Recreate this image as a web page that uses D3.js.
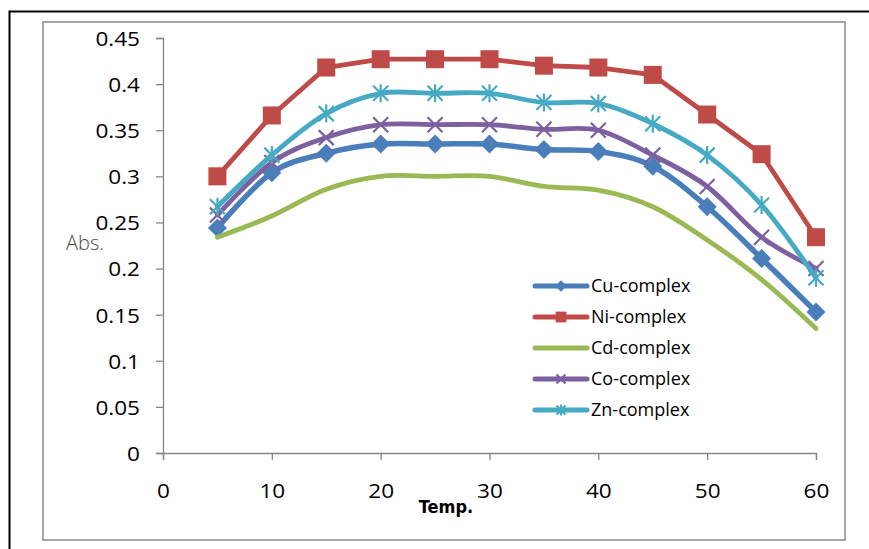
<!DOCTYPE html>
<html><head><meta charset="utf-8">
<script src="https://cdn.jsdelivr.net/npm/d3@7"></script>
<style>body{margin:0;background:#fff}svg{display:block}</style>
</head><body>
<script>
const temps = [5,10,15,20,25,30,35,40,45,50,55,60];
const cu = [0.244,0.304,0.325,0.335,0.335,0.335,0.329,0.327,0.311,0.267,0.211,0.153];
const ni = [0.300,0.366,0.418,0.427,0.427,0.427,0.420,0.418,0.410,0.367,0.324,0.234];
const cd = [0.234,0.257,0.286,0.300,0.300,0.300,0.289,0.285,0.267,0.231,0.188,0.135];
const co = [0.258,0.315,0.342,0.356,0.356,0.356,0.351,0.350,0.323,0.289,0.234,0.200];
const zn = [0.267,0.323,0.368,0.390,0.390,0.390,0.380,0.379,0.357,0.323,0.269,0.190];
const seriesNames = ["Cu-complex","Ni-complex","Cd-complex","Co-complex","Zn-complex"];
const xTicks = [0,10,20,30,40,50,60];
const yTicks = [0,0.05,0.1,0.15,0.2,0.25,0.3,0.35,0.4,0.45];

const series = [
  {name:seriesNames[0], vals:cu, color:"#4a7ebb", marker:"diamond", smooth:true},
  {name:seriesNames[1], vals:ni, color:"#be4b48", marker:"square", smooth:false},
  {name:seriesNames[2], vals:cd, color:"#98b954", marker:"none", smooth:true},
  {name:seriesNames[3], vals:co, color:"#7d60a0", marker:"x", smooth:true},
  {name:seriesNames[4], vals:zn, color:"#46aac5", marker:"star", smooth:true}
];

const W=869,H=549;
const svg=d3.select("body").append("svg").attr("width",W).attr("height",H);
svg.append("rect").attr("width",W).attr("height",H).attr("fill","#fff");
svg.append("path").attr("d","M9.5,549 L9.5,11.5 L869,11.5").attr("fill","none").attr("stroke","#000").attr("stroke-width",2);
svg.append("rect").attr("x",43).attr("y",22).attr("width",802).attr("height",518)
  .attr("fill","#fff").attr("stroke","#8c8c8c").attr("stroke-width",1.5);

const x=d3.scaleLinear().domain([0,60]).range([163,816]);
const y=d3.scaleLinear().domain([0,0.45]).range([453,38]);
const axisColor="#868686";
const fontF="'Open Sans', Lato, sans-serif";

const yAx=svg.append("g").attr("transform","translate(163,0)")
  .call(d3.axisLeft(y).tickValues(yTicks).tickSize(7).tickPadding(0));
yAx.select(".domain").attr("stroke",axisColor).attr("stroke-width",1.3);
yAx.selectAll(".tick line").attr("stroke",axisColor).attr("stroke-width",1.3);
yAx.selectAll(".tick text").remove();
yAx.selectAll(".tick").append("text")
  .attr("transform","translate(-23,0) scale(1.1,1)")
  .attr("text-anchor","end").attr("dy","0.36em")
  .attr("font-family",fontF).attr("font-size",20.5).attr("fill","#000")
  .text(d=>String(+d.toFixed(2)));

const xAx=svg.append("g").attr("transform","translate(0,453)")
  .call(d3.axisBottom(x).tickValues(xTicks).tickSize(7).tickPadding(0));
xAx.select(".domain").attr("stroke",axisColor).attr("stroke-width",1.3);
xAx.selectAll(".tick line").attr("stroke",axisColor).attr("stroke-width",1.3);
xAx.selectAll(".tick text").remove();
xAx.selectAll(".tick").append("text")
  .attr("transform","translate(0,38) scale(1.1,1)")
  .attr("text-anchor","middle").attr("dy","0.36em")
  .attr("font-family",fontF).attr("font-size",20.5).attr("fill","#000")
  .text(d=>d);

svg.append("text").attr("x",66).attr("y",250).attr("font-family",fontF).attr("font-size",20)
  .attr("fill","#4a4a4a").attr("font-weight",300).text("Abs.");
svg.append("text").attr("x",446).attr("y",513).attr("text-anchor","middle")
  .attr("font-family","'DejaVu Sans Condensed','DejaVu Sans',sans-serif").attr("font-weight","bold")
  .attr("font-size",18).attr("fill","#000").text("Temp.");

function drawMarker(g,type,color,cx,cy,scale){
  const s=scale||1;
  if(type==="diamond"){
    const r=9.5*s;
    g.append("path").attr("d",`M${cx},${cy-r}L${cx+r},${cy}L${cx},${cy+r}L${cx-r},${cy}Z`).attr("fill",color);
  } else if(type==="square"){
    const r=9*s;
    g.append("rect").attr("x",cx-r).attr("y",cy-r).attr("width",2*r).attr("height",2*r).attr("fill",color);
  } else if(type==="x"){
    const r=7.5*s;
    g.append("path").attr("d",`M${cx-r},${cy-r}L${cx+r},${cy+r}M${cx-r},${cy+r}L${cx+r},${cy-r}`)
      .attr("stroke",color).attr("stroke-width",2.2).attr("fill","none");
  } else if(type==="star"){
    const r=7.5*s;
    g.append("path").attr("d",`M${cx-r},${cy-r}L${cx+r},${cy+r}M${cx-r},${cy+r}L${cx+r},${cy-r}M${cx},${cy-r*1.2}L${cx},${cy+r*1.2}`)
      .attr("stroke",color).attr("stroke-width",2.2).attr("fill","none");
  }
}

const plot=svg.append("g");
series.forEach(s=>{
  const pts=temps.map((t,i)=>[x(t),y(s.vals[i])]);
  const line=d3.line().curve(s.smooth?d3.curveCardinal.tension(0):d3.curveLinear);
  plot.append("path").attr("d",line(pts)).attr("fill","none").attr("stroke",s.color)
    .attr("stroke-width",s.name==="Cu-complex"?5.5:4.8).attr("stroke-linejoin","round").attr("stroke-linecap","round");
  const mg=plot.append("g");
  pts.forEach(p=>drawMarker(mg,s.marker,s.color,p[0],p[1]));
});

const leg=svg.append("g");
series.forEach((s,i)=>{
  const ly=286+i*31;
  leg.append("line").attr("x1",535).attr("x2",587).attr("y1",ly).attr("y2",ly)
    .attr("stroke",s.color).attr("stroke-width",5).attr("stroke-linecap","round");
  drawMarker(leg,s.marker,s.color,561,ly,0.6);
  leg.append("text").attr("x",591).attr("y",ly).attr("dy","0.36em")
    .attr("font-family",fontF).attr("font-size",18).attr("fill","#000").text(s.name);
});
</script>
</body></html>
